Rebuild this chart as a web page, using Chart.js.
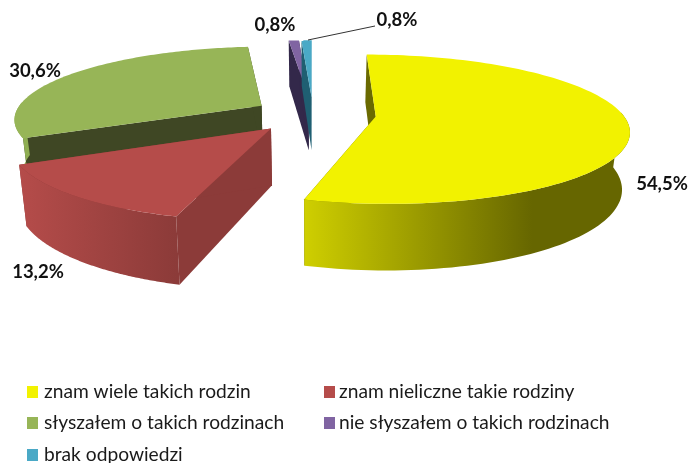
<!DOCTYPE html>
<html><head><meta charset="utf-8">
<style>html,body{margin:0;padding:0;background:#fff}#w{position:relative;width:689px;height:463px}canvas{display:block}</style>
<script src="https://cdn.jsdelivr.net/npm/chart.js@4"></script></head>
<body><div id="w"><canvas id="c" width="689" height="463"></canvas></div>
<script>
const categories=["znam wiele takich rodzin","znam nieliczne takie rodziny","słyszałem o takich rodzinach","nie słyszałem o takich rodzinach","brak odpowiedzi"];
const values=[54.5,13.2,30.6,0.8,0.8];
const valueLabels=["54,5%","13,2%","30,6%","0,8%","0,8%"];
const colors=["#f2f200","#b54c4a","#97b557","#8064a2","#4aa9c6"];
const wallDark=["#6a6a00","#8c3b39","#3f4724","#33284a","#1f5f72"];
const outerStops=[
 [[0,"#cfcf00"],[0.7,"#666600"],[1,"#666600"]],
 [[0,"#b54c4a"],[1,"#8c3b39"]],
 [[0,"#8fae52"],[1,"#8fae52"]],
 [[0,"#33284a"],[1,"#33284a"]],
 [[0,"#2a7a90"],[1,"#2a7a90"]]];
const explode=[63,63,60,60,60];
const qY=0.29, Xc=313, Yc=114, horizon=-313, D0=55, baseShrink=0.975;
const k=qY/(Yc-horizon);
const labelPos=[[662,184],[38,272],[35,71],[275,25],[397,20]];
const legendCols=[27,324], legendRows=[392,423,454.5];
function project(u,v){const s=1/(1-k*v);return [Xc+u*s,Yc+qY*v*s,s];}
function base(p){return [Xc+(p[0]-Xc)*baseShrink,p[1]+D0*p[2]];}
const threeD={id:'threeD',
 beforeDatasetsDraw(ch){
  const ctx=ch.ctx,meta=ch.getDatasetMeta(0);
  [2,3,4,1,0].forEach(i=>{
   const a=meta.data[i],R=a.outerRadius;
   const mid=(a.startAngle+a.endAngle)/2;
   const cu=Math.cos(mid)*explode[i],cv=Math.sin(mid)*explode[i];
   const P=(ang,r)=>project(cu+Math.cos(ang)*r,cv+Math.sin(ang)*r);
   const angles=[];for(let n=0;n<=120;n++)angles.push(a.startAngle+(a.endAngle-a.startAngle)*n/120);
   const arc=angles.map(t=>P(t,R));
   const c=P(0,0),cb=base(c);
   const wall=(p,col)=>{const b=base(p);ctx.fillStyle=col;ctx.beginPath();ctx.moveTo(c[0],c[1]);ctx.lineTo(p[0],p[1]);ctx.lineTo(b[0],b[1]);ctx.lineTo(cb[0],cb[1]);ctx.closePath();ctx.fill();};
   wall(arc[0],wallDark[i]);wall(arc[120],wallDark[i]);
   const front=arc.filter((p,n)=>Math.sin(angles[n])>=-0.06);
   if(front.length>1){
    const xs=front.map(p=>p[0]),x0=Math.min(...xs),x1=Math.max(...xs);
    const g=ctx.createLinearGradient(x0,0,x1,0);
    outerStops[i].forEach(s=>g.addColorStop(s[0],s[1]));
    ctx.fillStyle=g;ctx.beginPath();
    front.forEach((p,n)=>ctx[n?'lineTo':'moveTo'](p[0],p[1]));
    for(let n=front.length-1;n>=0;n--){const b=base(front[n]);ctx.lineTo(b[0],b[1]);}
    ctx.closePath();ctx.fill();
   }
   ctx.fillStyle=colors[i];ctx.beginPath();ctx.moveTo(c[0],c[1]);
   arc.forEach(p=>ctx.lineTo(p[0],p[1]));ctx.closePath();ctx.fill();
  });
  return false;
 },
 afterDraw(ch){
  const ctx=ch.ctx;ctx.save();
  ctx.font='bold 18.5px Lato,sans-serif';ctx.fillStyle='#111';ctx.textAlign='center';ctx.textBaseline='middle';
  valueLabels.forEach((t,i)=>ctx.fillText(t,labelPos[i][0],labelPos[i][1]));
  ctx.strokeStyle='#333';ctx.lineWidth=1;ctx.beginPath();ctx.moveTo(308,40);ctx.lineTo(375,26);ctx.stroke();
  ctx.textAlign='left';ctx.font='19.2px Lato,sans-serif';
  categories.forEach((t,i)=>{
   const x=legendCols[i%2],y=legendRows[Math.floor(i/2)];
   ctx.fillStyle=colors[i];ctx.fillRect(x,Math.round(y-6),11,12);
   ctx.fillStyle='#1a1a1a';ctx.fillText(t,x+(i%2?15:17),y);
  });
  ctx.restore();
 }};
new Chart(document.getElementById('c'),{type:'pie',
 data:{labels:categories,datasets:[{data:values,backgroundColor:colors,borderWidth:0}]},
 options:{responsive:false,animation:false,rotation:0,radius:247,
  plugins:{legend:{display:false},tooltip:{enabled:false}}},
 plugins:[threeD]});
</script></body></html>
